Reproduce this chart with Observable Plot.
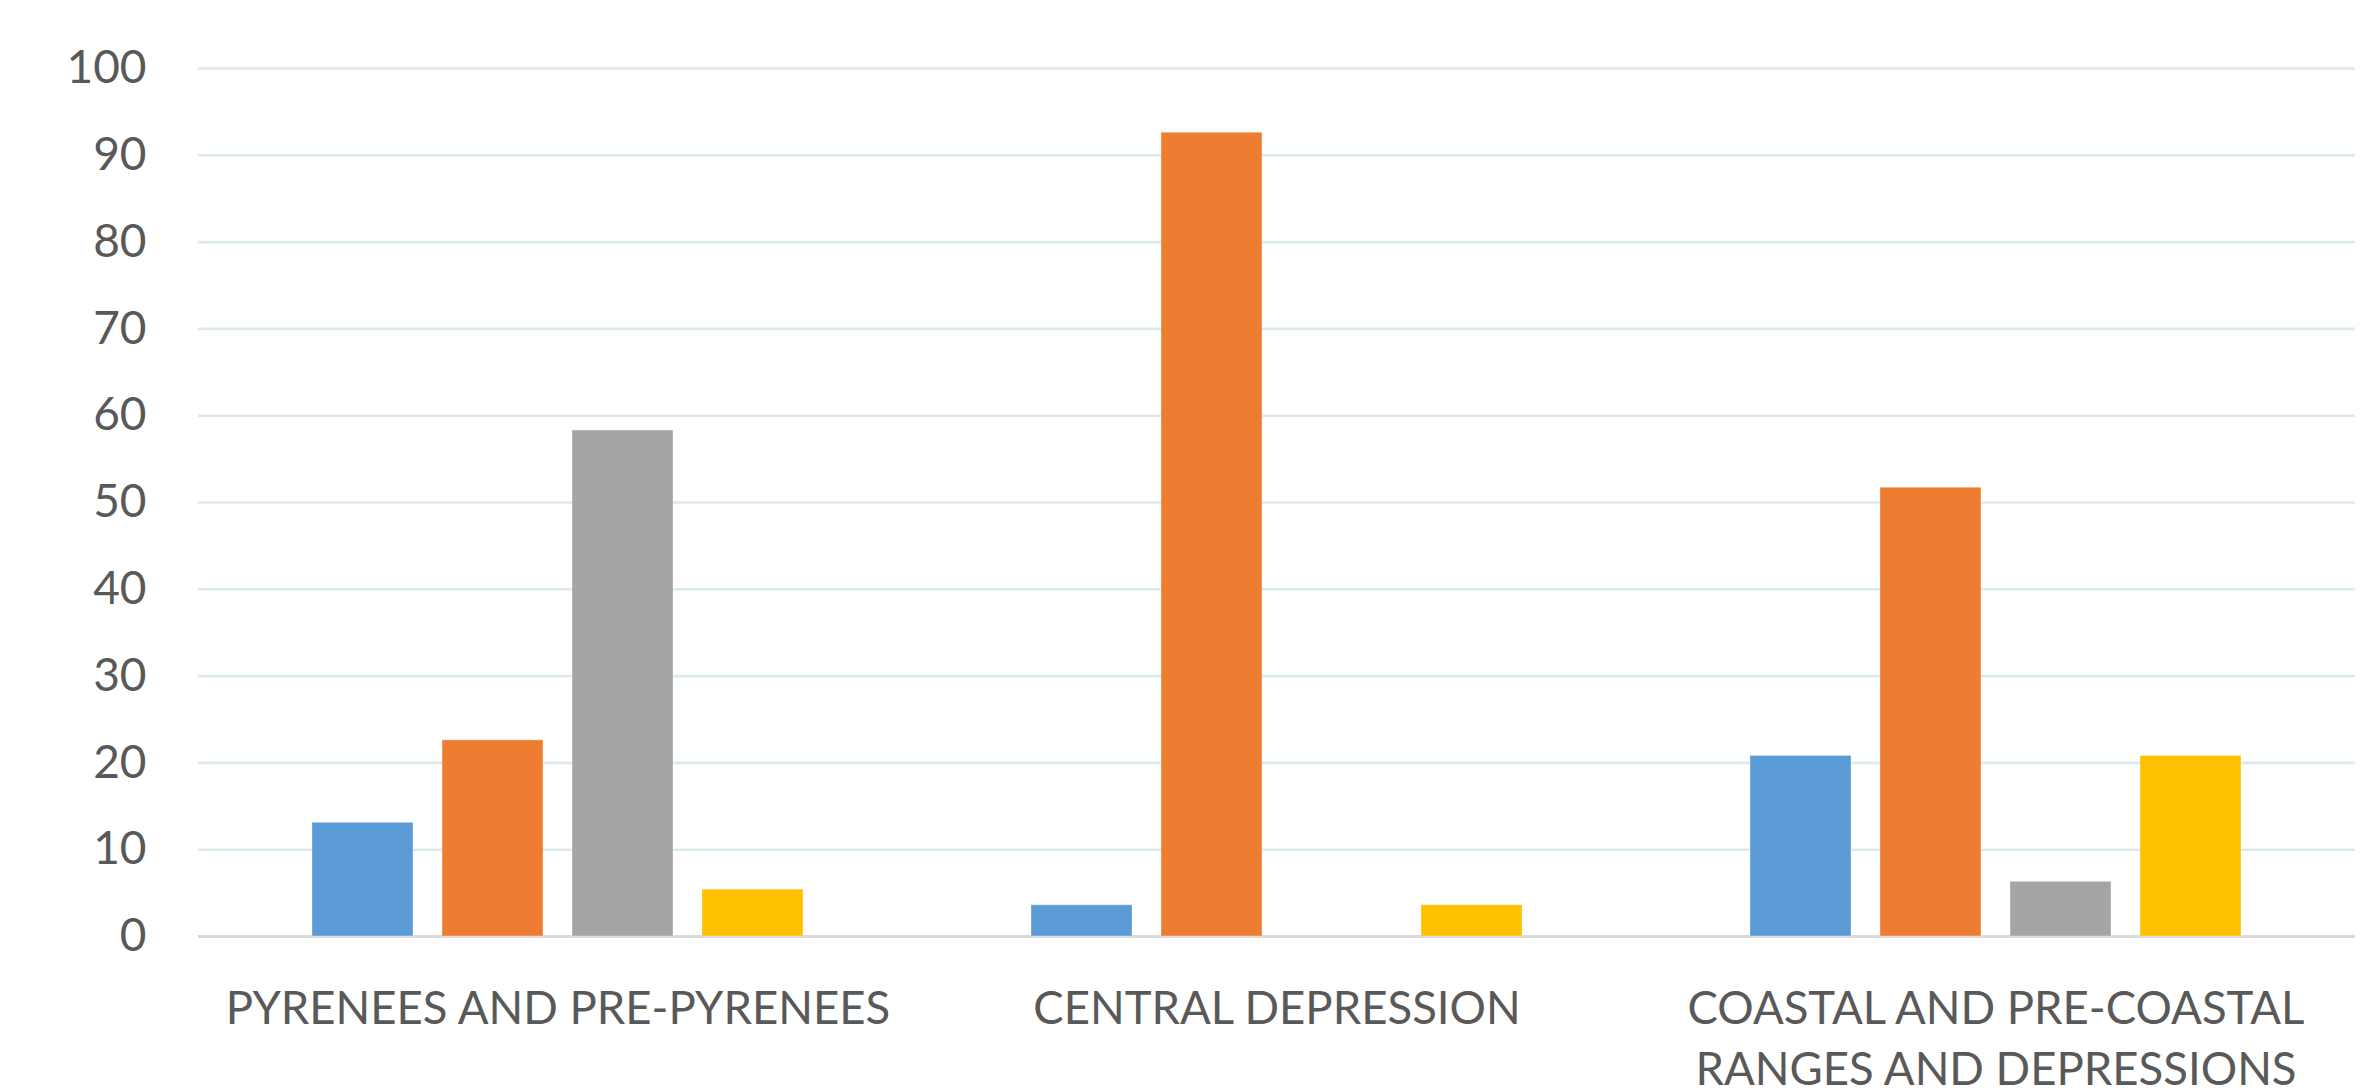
<!DOCTYPE html>
<html><head><meta charset="utf-8">
<script src="https://cdn.jsdelivr.net/npm/d3@7"></script>
<script src="https://cdn.jsdelivr.net/npm/@observablehq/plot@0.6"></script>
<style>html,body{margin:0;padding:0;background:#fff}</style>
</head><body><div id="chart"></div>
<script>
const categories = ["PYRENEES AND PRE-PYRENEES", "CENTRAL DEPRESSION", "COASTAL AND PRE-COASTAL RANGES AND DEPRESSIONS"];
const categoryLabels = ["PYRENEES AND PRE-PYRENEES", "CENTRAL DEPRESSION", "COASTAL AND PRE-COASTAL\nRANGES AND DEPRESSIONS"];
const seriesNames = ["Series 1", "Series 2", "Series 3", "Series 4"];
const series1 = [13.1, 3.6, 20.8];
const series2 = [22.6, 92.6, 51.7];
const series3 = [58.3, 0, 6.3];
const series4 = [5.4, 3.6, 20.8];
const seriesColors = ["#5B9BD5", "#ED7D31", "#A5A5A5", "#FFC000"];
const yTicks = [0, 10, 20, 30, 40, 50, 60, 70, 80, 90, 100];

const seriesValues = [series1, series2, series3, series4];
const data = [];
categories.forEach((c, i) => {
  seriesNames.forEach((s, j) => {
    data.push({category: c, series: s, value: seriesValues[j][i]});
  });
});
const labelOf = new Map(categories.map((c, i) => [c, categoryLabels[i]]));

const chart = Plot.plot({
  width: 2379,
  height: 1091,
  marginLeft: 198,
  marginRight: 24,
  marginTop: 68,
  marginBottom: 155,
  style: {fontFamily: "Lato, 'Open Sans', sans-serif", fontSize: "46px", color: "#595959", background: "#fff", overflow: "visible"},
  fx: {domain: categories, padding: 0, axis: null, label: null},
  x: {domain: seriesNames, paddingInner: 0.22, paddingOuter: 0.86, axis: null},
  y: {domain: [0, 100], axis: null},
  color: {domain: seriesNames, range: seriesColors},
  marks: [
    Plot.gridY(yTicks.filter(d => d > 0), {stroke: "#DCEAED", strokeOpacity: 1, strokeWidth: 2.6}),
    Plot.ruleY([0], {stroke: "#D9D9D9", strokeWidth: 3}),
    Plot.barY(data, {fx: "category", x: "series", y: "value", fill: "series", inset: 0, stroke: "#ffffff", strokeOpacity: 0.35, strokeWidth: 1}),
    Plot.axisY(yTicks, {anchor: "left", tickSize: 0, tickPadding: 52, fontSize: 46, fill: "#595959", label: null}),
    Plot.axisFx({anchor: "bottom", tickSize: 0, tickPadding: 44, fontSize: 45.5, fill: "#595959", lineHeight: 1.34, tickFormat: d => labelOf.get(d), label: null})
  ]
});
document.getElementById("chart").appendChild(chart);
</script>
</body></html>
